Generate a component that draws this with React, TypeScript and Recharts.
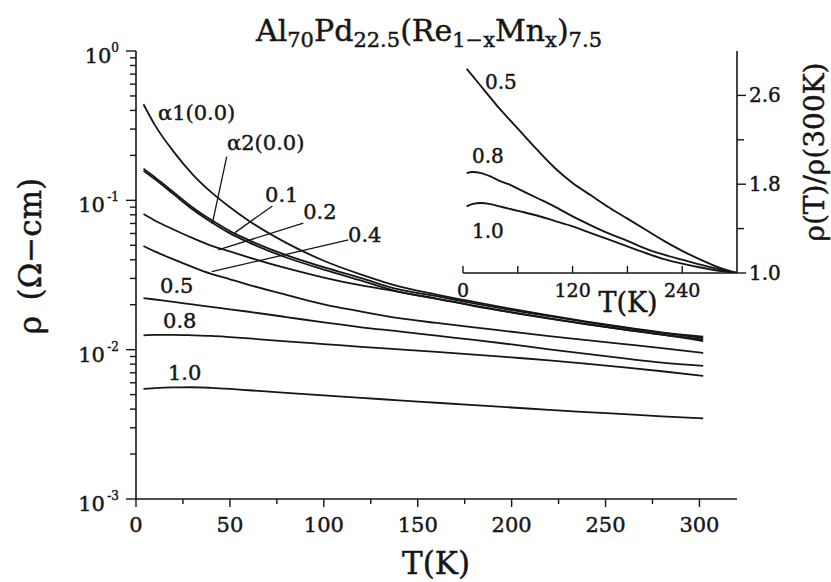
import React from 'react';
import { LineChart, Line, XAxis, YAxis, ReferenceLine, ReferenceDot } from 'recharts';

const FONT = '"DejaVu Serif", "Liberation Serif", serif';
const INK = '#161616';
const TXT = { fontFamily: FONT, fill: INK, stroke: INK, strokeWidth: 0.45 };

// ---------- main panel data: resistivity (ohm-cm) vs T (K) ----------
const temperatures = [4, 10, 20, 30, 40, 50, 60, 80, 100, 120, 140, 160, 180, 200, 220, 240, 260, 280, 302];
const rhoA1 = [0.44, 0.32, 0.212, 0.15, 0.1135, 0.09, 0.0731, 0.0519, 0.0394, 0.0318, 0.0265, 0.0234, 0.0209, 0.01875, 0.01694, 0.01542, 0.01413, 0.01306, 0.0122];
const rhoA2 = [0.163, 0.143, 0.1135, 0.09, 0.074, 0.0622, 0.0542, 0.043, 0.0357, 0.0301, 0.0253, 0.0228, 0.0204, 0.0184, 0.01675, 0.01531, 0.01406, 0.01297, 0.012];
const rhoX01 = [0.158, 0.139, 0.11, 0.0872, 0.0716, 0.0601, 0.0523, 0.0414, 0.0344, 0.029, 0.0244, 0.022, 0.0197, 0.0178, 0.0162, 0.01485, 0.01365, 0.01262, 0.0117];
const rhoX02 = [0.081, 0.0733, 0.0638, 0.056, 0.0498, 0.0455, 0.0415, 0.0351, 0.0304, 0.0269, 0.0244, 0.0219, 0.0196, 0.01774, 0.01614, 0.01479, 0.01361, 0.01259, 0.0114];
const rhoX04 = [0.0495, 0.0455, 0.0402, 0.0358, 0.0322, 0.0296, 0.0272, 0.0233, 0.0201, 0.018, 0.01626, 0.0151, 0.01409, 0.01318, 0.01233, 0.01159, 0.01089, 0.01023, 0.0095];
const rhoX05 = [0.02215, 0.02168, 0.0209, 0.0201, 0.01934, 0.01864, 0.01794, 0.01654, 0.01521, 0.01412, 0.01326, 0.0124, 0.01162, 0.01084, 0.01006, 0.00936, 0.00874, 0.00819, 0.0078];
const rhoX08 = [0.01247, 0.01255, 0.01255, 0.01248, 0.01237, 0.01215, 0.0119, 0.01137, 0.0109, 0.01045, 0.01005, 0.00966, 0.00927, 0.00887, 0.00848, 0.00805, 0.00762, 0.00717, 0.00667];
const rhoX10 = [0.00546, 0.00553, 0.00559, 0.0056, 0.00555, 0.00546, 0.00535, 0.00514, 0.00494, 0.00475, 0.00458, 0.00441, 0.00425, 0.0041, 0.00395, 0.00382, 0.0037, 0.00358, 0.00347];

const seriesKeys = ['a1', 'a2', 'x01', 'x02', 'x04', 'x05', 'x08', 'x10'];
const seriesValues = [rhoA1, rhoA2, rhoX01, rhoX02, rhoX04, rhoX05, rhoX08, rhoX10];
const seriesLabels = ['α1(0.0)', 'α2(0.0)', '0.1', '0.2', '0.4', '0.5', '0.8', '1.0'];
// label anchors (data coords: T, rho) — text baseline-left
const labelT = [11.7, 48.5, 68.7, 89.0, 112.9, 12.8, 14.4, 17.0];
const labelRho = [0.3455, 0.2176, 0.0976, 0.075, 0.0526, 0.024, 0.01397, 0.00627];
// leader lines for crowded labels: [T1, rho1, T2, rho2]
const leaders = [
  [48.3, 0.196, 40.6, 0.0695],
  [72.6, 0.0917, 52.7, 0.0608],
  [89.1, 0.0703, 43.8, 0.0466],
  [113.1, 0.0543, 40.3, 0.0333],
];

const xMajorTicks = [0, 50, 100, 150, 200, 250, 300];
const xMinorTicks = [25, 75, 125, 175, 225, 275];
const yMajorTicks = [0.001, 0.01, 0.1, 1];
const yMinorTicks = [0.002, 0.003, 0.004, 0.005, 0.006, 0.007, 0.008, 0.009, 0.02, 0.03, 0.04, 0.05, 0.06, 0.07, 0.08, 0.09, 0.2, 0.3, 0.4, 0.5, 0.6, 0.7, 0.8, 0.9];

// ---------- inset data: rho(T)/rho(300K) ----------
const insetTemperatures = [4, 10, 20, 30, 40, 50, 60, 80, 100, 120, 140, 160, 180, 200, 220, 240, 260, 280, 300];
const ratioX05 = [2.84, 2.78, 2.68, 2.58, 2.48, 2.39, 2.3, 2.12, 1.95, 1.81, 1.7, 1.59, 1.49, 1.39, 1.29, 1.2, 1.12, 1.05, 1.0];
const ratioX08 = [1.9, 1.91, 1.9, 1.87, 1.83, 1.8, 1.76, 1.68, 1.6, 1.51, 1.43, 1.355, 1.29, 1.22, 1.165, 1.12, 1.075, 1.035, 1.0];
const ratioX10 = [1.6, 1.62, 1.63, 1.62, 1.6, 1.58, 1.56, 1.52, 1.47, 1.42, 1.36, 1.3, 1.24, 1.18, 1.125, 1.085, 1.05, 1.02, 1.0];
const insetKeys = ['r05', 'r08', 'r10'];
const insetValues = [ratioX05, ratioX08, ratioX10];
const insetLabels = ['0.5', '0.8', '1.0'];
const insetLabelT = [24.1, 9.9, 9.9];
const insetLabelRatio = [2.655, 1.995, 1.316];
const insetXTicks = [0, 60, 120, 180, 240];
const insetXLabelled = [0, 120, 240];
const insetYTicks = [1.0, 1.4, 1.8, 2.2, 2.6];
const insetYLabelled = [1.0, 1.8, 2.6];

const mainData = temperatures.map((T, i) => {
  const row: Record<string, number> = { T };
  seriesKeys.forEach((k, j) => { row[k] = seriesValues[j][i]; });
  return row;
});
const insetData = insetTemperatures.map((T, i) => {
  const row: Record<string, number> = { T };
  insetKeys.forEach((k, j) => { row[k] = insetValues[j][i]; });
  return row;
});

const MainXTick = (props: any) => {
  const { x, y, payload } = props;
  const v = payload.value;
  const major = xMajorTicks.includes(v);
  return (
    <g>
      <line x1={x} x2={x} y1={y} y2={y + (major ? 8 : 5)} stroke={INK} strokeWidth={1.4} />
      {major && (
        <text x={x} y={y + 33} textAnchor="middle" fontSize={21} {...TXT}>{v}</text>
      )}
    </g>
  );
};

const MainYTick = (props: any) => {
  const { x, y, payload } = props;
  const v = payload.value;
  const lg = Math.log10(v);
  const exp = Math.round(lg);
  const major = Math.abs(lg - exp) < 1e-6;
  return (
    <g>
      <line x1={x} x2={x - (major ? 10 : 6)} y1={y} y2={y} stroke={INK} strokeWidth={1.4} />
      {major && (
        <text x={x - 17} y={y + 12} textAnchor="end" fontSize={21} {...TXT}>
          10
          <tspan dy={-11} fontSize={12}>{exp === 0 ? '0' : '\u2009-' + String(-exp)}</tspan>
        </text>
      )}
    </g>
  );
};

const InsetXTick = (props: any) => {
  const { x, y, payload } = props;
  const v = payload.value;
  return (
    <g>
      <line x1={x} x2={x} y1={y} y2={y - 7} stroke={INK} strokeWidth={1.4} />
      {insetXLabelled.includes(v) && (
        <text x={x} y={y + 24} textAnchor="middle" fontSize={19} {...TXT}>{v}</text>
      )}
    </g>
  );
};

const InsetYTick = (props: any) => {
  const { x, y, payload } = props;
  const v = payload.value;
  const labelled = insetYLabelled.some((t) => Math.abs(t - v) < 1e-6);
  return (
    <g>
      <line x1={x} x2={x + (labelled ? 9 : 7)} y1={y} y2={y} stroke={INK} strokeWidth={1.4} />
      {labelled && (
        <text x={x + 12} y={y + 7} textAnchor="start" fontSize={20} {...TXT}>{v.toFixed(1)}</text>
      )}
    </g>
  );
};

const NoTick = () => <g />;

const makeLabel = (text: string, size: number) => (props: any) => {
  const vb = props.viewBox || {};
  return (
    <text x={vb.x} y={vb.y} fontSize={size} {...TXT}>{text}</text>
  );
};

export default function App() {
  const axisLine = { stroke: INK, strokeWidth: 1.6 };
  return (
    <div style={{ position: 'absolute', left: 0, top: 0, width: 831, height: 582, background: '#fff' }}>
      <LineChart
        width={831}
        height={582}
        data={mainData}
        margin={{ top: 51, right: 94, bottom: 53, left: 0 }}
        style={{ position: 'absolute', left: 0, top: 0 }}
      >
        <XAxis
          xAxisId="x"
          type="number"
          dataKey="T"
          domain={[0, 320]}
          allowDataOverflow
          ticks={[...xMajorTicks, ...xMinorTicks].sort((a, b) => a - b)}
          interval={0}
          tickSize={0}
          tickMargin={0}
          tickLine={false}
          tick={<MainXTick />}
          axisLine={axisLine}
          height={30}
        />
        <XAxis
          xAxisId="top"
          orientation="top"
          type="number"
          domain={[0, 320]}
          allowDataOverflow
          tick={NoTick}
          tickLine={false}
          axisLine={axisLine}
          height={0}
        />
        <YAxis
          yAxisId="y"
          scale="log"
          type="number"
          domain={[0.001, 1]}
          allowDataOverflow
          ticks={[...yMajorTicks, ...yMinorTicks].sort((a, b) => a - b)}
          interval={0}
          tickSize={0}
          tickMargin={0}
          tickLine={false}
          tick={<MainYTick />}
          axisLine={axisLine}
          width={136}
        />
        <YAxis
          yAxisId="right"
          orientation="right"
          scale="log"
          type="number"
          domain={[0.001, 1]}
          allowDataOverflow
          tick={NoTick}
          tickLine={false}
          axisLine={axisLine}
          width={0}
        />
        {seriesKeys.map((k) => (
          <Line
            key={k}
            xAxisId="x"
            yAxisId="y"
            dataKey={k}
            type="monotone"
            stroke={INK}
            strokeWidth={1.8}
            dot={false}
            activeDot={false}
            isAnimationActive={false}
          />
        ))}
        {leaders.map((s, i) => (
          <ReferenceLine
            key={'ld' + i}
            xAxisId="x"
            yAxisId="y"
            segment={[{ x: s[0], y: s[1] }, { x: s[2], y: s[3] }]}
            stroke={INK}
            strokeWidth={1.3}
            ifOverflow="visible"
          />
        ))}
        {seriesLabels.map((t, i) => (
          <ReferenceDot
            key={'lb' + i}
            xAxisId="x"
            yAxisId="y"
            x={labelT[i]}
            y={labelRho[i]}
            r={0}
            fill="none"
            stroke="none"
            ifOverflow="visible"
            label={makeLabel(t, 21)}
          />
        ))}
      </LineChart>

      <LineChart
        width={831}
        height={582}
        data={insetData}
        margin={{ top: 51, right: 44, bottom: 279, left: 463 }}
        style={{ position: 'absolute', left: 0, top: 0 }}
      >
        <XAxis
          xAxisId="ix"
          type="number"
          dataKey="T"
          domain={[0, 300]}
          allowDataOverflow
          ticks={insetXTicks}
          interval={0}
          tickSize={0}
          tickMargin={0}
          tickLine={false}
          tick={<InsetXTick />}
          axisLine={axisLine}
          height={30}
        />
        <YAxis
          yAxisId="iy"
          orientation="right"
          type="number"
          domain={[1, 3]}
          allowDataOverflow
          ticks={insetYTicks}
          interval={0}
          tickSize={0}
          tickMargin={0}
          tickLine={false}
          tick={<InsetYTick />}
          axisLine={axisLine}
          width={50}
        />
        <YAxis
          yAxisId="ileft"
          orientation="left"
          type="number"
          domain={[1, 3]}
          allowDataOverflow
          tick={NoTick}
          tickLine={false}
          axisLine={axisLine}
          width={0}
        />
        {insetKeys.map((k) => (
          <Line
            key={k}
            xAxisId="ix"
            yAxisId="iy"
            dataKey={k}
            type="monotone"
            stroke={INK}
            strokeWidth={1.9}
            dot={false}
            activeDot={false}
            isAnimationActive={false}
          />
        ))}
        {insetLabels.map((t, i) => (
          <ReferenceDot
            key={'il' + i}
            xAxisId="ix"
            yAxisId="iy"
            x={insetLabelT[i]}
            y={insetLabelRatio[i]}
            r={0}
            fill="none"
            stroke="none"
            ifOverflow="visible"
            label={makeLabel(t, 20)}
          />
        ))}
      </LineChart>

      <svg width={831} height={582} style={{ position: 'absolute', left: 0, top: 0, pointerEvents: 'none' }}>
        <text x={429} y={41} textAnchor="middle" fontSize={30} {...TXT}>
          Al<tspan fontSize={21} dy={6}>70</tspan>
          <tspan dy={-6}>Pd</tspan>
          <tspan fontSize={21} dy={6}>22.5</tspan>
          <tspan dy={-6}>(Re</tspan>
          <tspan fontSize={21} dy={6}>1−x</tspan>
          <tspan dy={-6}>Mn</tspan>
          <tspan fontSize={21} dy={6}>x</tspan>
          <tspan dy={-6}>)</tspan>
          <tspan fontSize={21} dy={6}>7.5</tspan>
        </text>
        <text transform="translate(41,256) rotate(-90)" textAnchor="middle" fontSize={31} {...TXT}>
          ρ{'\u2002'}(Ω−cm)
        </text>
        <text x={436} y={574} textAnchor="middle" fontSize={31} {...TXT}>T(K)</text>
        <text x={628} y={312} textAnchor="middle" fontSize={27} {...TXT}>T(K)</text>
        <text transform="translate(824,152) rotate(-90)" textAnchor="middle" fontSize={28} {...TXT}>
          ρ(T)/ρ(300K)
        </text>
      </svg>
    </div>
  );
}
